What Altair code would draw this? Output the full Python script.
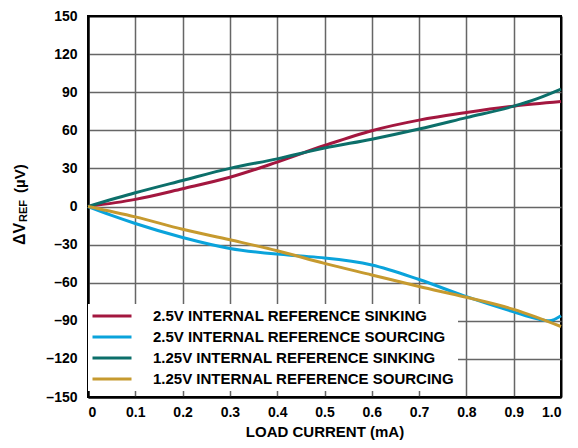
import altair as alt
import pandas as pd

series_names = [
    "2.5V INTERNAL REFERENCE SINKING",
    "2.5V INTERNAL REFERENCE SOURCING",
    "1.25V INTERNAL REFERENCE SINKING",
    "1.25V INTERNAL REFERENCE SOURCING",
]
series_colors = ["#A3173F", "#0AA3DB", "#0C6F6A", "#C69A2F"]

# load current (mA) and delta VREF (uV) per series
x_sink25 = [0.0, 0.1, 0.2, 0.3, 0.4, 0.5, 0.6, 0.7, 0.8, 0.9, 1.0]
y_sink25 = [0.0, 5.6, 14.0, 23.0, 35.0, 48.0, 59.7, 68.0, 74.0, 79.0, 82.6]

x_src25 = [0.0, 0.05, 0.1, 0.2, 0.3, 0.4, 0.45, 0.5, 0.6, 0.7, 0.8, 0.9, 0.95, 0.975, 1.0]
y_src25 = [0.0, -7.0, -13.4, -24.4, -33.0, -37.5, -39.0, -40.5, -46.0, -57.5, -71.0, -83.0, -88.5, -90.0, -86.0]

x_sink125 = [0.0, 0.1, 0.2, 0.3, 0.4, 0.5, 0.6, 0.7, 0.8, 0.9, 0.95, 1.0]
y_sink125 = [0.0, 10.8, 20.5, 30.0, 37.5, 46.0, 53.0, 61.0, 70.0, 79.0, 85.0, 92.5]

x_src125 = [0.0, 0.1, 0.2, 0.3, 0.4, 0.5, 0.6, 0.7, 0.8, 0.9, 1.0]
y_src125 = [0.0, -8.2, -17.9, -26.2, -34.8, -44.8, -53.9, -63.0, -71.5, -81.0, -94.5]

x_ticks = [0.0, 0.1, 0.2, 0.3, 0.4, 0.5, 0.6, 0.7, 0.8, 0.9, 1.0]
y_ticks = [-150, -120, -90, -60, -30, 0, 30, 60, 90, 120, 150]

rows = []
for name, xs, ys in zip(series_names,
                        [x_sink25, x_src25, x_sink125, x_src125],
                        [y_sink25, y_src25, y_sink125, y_src125]):
    for xv, yv in zip(xs, ys):
        rows.append({"series": name, "current": xv, "dv": yv})
df = pd.DataFrame(rows)

FONT = "Liberation Sans"
W, H = 473, 381

lines = alt.Chart(df).mark_line(strokeWidth=3, interpolate="monotone").encode(
    x=alt.X("current:Q",
            scale=alt.Scale(domain=[0, 1], nice=False),
            axis=alt.Axis(values=x_ticks,
                          labelExpr="datum.value == 0 ? '0' : format(datum.value, '.1f')",
                          title="LOAD CURRENT (mA)", titleFontSize=15,
                          titlePadding=5,
                          labelPadding=8, ticks=False,
                          gridColor={"condition": {"test": "datum.value == 0 || datum.value == 1", "value": "black"}, "value": "#666666"},
                          gridWidth={"condition": {"test": "datum.value == 0 || datum.value == 1", "value": 2}, "value": 1.5})),
    y=alt.Y("dv:Q",
            scale=alt.Scale(domain=[-150, 150], nice=False),
            axis=alt.Axis(values=y_ticks, title=None,
                          labelExpr="datum.value < 0 ? '\u2013' + format(-datum.value, 'd') : format(datum.value, 'd')",
                          labelPadding=11, ticks=False,
                          gridColor={"condition": {"test": "datum.value == -150 || datum.value == 150", "value": "black"}, "value": "#666666"},
                          gridWidth={"condition": {"test": "datum.value == -150 || datum.value == 150", "value": 2}, "value": 1.5})),
    color=alt.Color("series:N",
                    scale=alt.Scale(domain=series_names, range=series_colors),
                    legend=alt.Legend(orient="none", legendX=0, legendY=288, title=None,
                                      fillColor="white", padding=4,
                                      symbolType="M-3,0H3", symbolSize=169,
                                      symbolStrokeWidth=3, symbolOffset=12,
                                      labelOffset=33, rowPadding=5,
                                      labelFontSize=15, labelFont=FONT,
                                      labelFontWeight="bold", labelColor="black",
                                      labelLimit=400)),
)

t1 = alt.Chart(pd.DataFrame({"t": ["\u0394V"]})).mark_text(
    angle=270, align="left", baseline="alphabetic", font=FONT, fontSize=16,
    fontWeight="bold", color="black"
).encode(text="t:N", x=alt.value(-63), y=alt.value(229))
t2 = alt.Chart(pd.DataFrame({"t": ["REF"]})).mark_text(
    angle=270, align="left", baseline="alphabetic", font=FONT, fontSize=11,
    fontWeight="bold", color="black"
).encode(text="t:N", x=alt.value(-61), y=alt.value(206))
t3 = alt.Chart(pd.DataFrame({"t": ["(\u00b5V)"]})).mark_text(
    angle=270, align="left", baseline="alphabetic", font=FONT, fontSize=15,
    fontWeight="bold", color="black"
).encode(text="t:N", x=alt.value(-63), y=alt.value(177))

chart = alt.layer(lines, t1, t2, t3).properties(
    width=W, height=H,
    padding={"left": 80, "top": 8, "right": 9, "bottom": 43},
    autosize=alt.AutoSizeParams(type="none"),
    background="white",
).configure_view(stroke="black", strokeWidth=2).configure_axis(
    labelFont=FONT, labelFontSize=14, labelFontWeight="bold", labelColor="black",
    titleFont=FONT, titleFontWeight="bold", titleColor="black",
    domainColor="black", domainWidth=2,
)

chart.save("out.html", embed_options={"renderer": "svg", "actions": False})
